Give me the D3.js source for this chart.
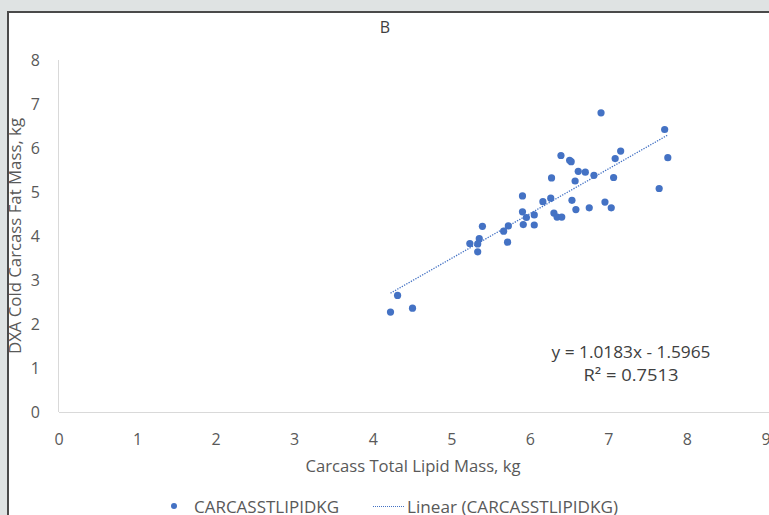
<!DOCTYPE html>
<html>
<head>
<meta charset="utf-8">
<script src="https://cdn.jsdelivr.net/npm/d3@7"></script>
<style>
  html, body { margin: 0; padding: 0; background: #dfe3e3; overflow: hidden; }
  svg { display: block; }
  text { font-family: "Open Sans", sans-serif; fill: #595959; }
</style>
</head>
<body>
<svg id="chart" width="769" height="515"></svg>
<script>
// carcass total lipid mass (kg) vs DXA cold carcass fat mass (kg)
var lipid = [5.90, 5.90, 5.95, 6.05, 5.91, 6.05, 5.39, 5.72, 5.66, 5.35, 5.23, 5.33, 5.71, 5.33,
  4.31, 4.22, 4.50, 6.90, 7.71, 7.75, 7.64, 7.15, 7.08, 7.06, 6.39, 6.50, 6.52, 6.61, 6.70, 6.81,
  6.27, 6.57, 6.16, 6.26, 6.53, 6.95, 7.03, 6.75, 6.58, 6.30, 6.34, 6.40];
var dxaFat = [4.91, 4.55, 4.42, 4.48, 4.26, 4.25, 4.22, 4.23, 4.11, 3.94, 3.83, 3.82, 3.86, 3.64,
  2.65, 2.27, 2.36, 6.80, 6.42, 5.78, 5.08, 5.93, 5.76, 5.33, 5.83, 5.72, 5.69, 5.47, 5.45, 5.38,
  5.32, 5.25, 4.78, 4.86, 4.81, 4.77, 4.64, 4.64, 4.60, 4.52, 4.43, 4.43];
var xTicks = [0, 1, 2, 3, 4, 5, 6, 7, 8, 9];
var yTicks = [0, 1, 2, 3, 4, 5, 6, 7, 8];
var slope = 1.0183, intercept = -1.5965, r2 = "0.7513";
var seriesName = "CARCASSTLIPIDKG";

var points = lipid.map((x, i) => ({ x: x, y: dxaFat[i] }));

var svg = d3.select("#chart");

// white chart panel, dark frame on the left/top
svg.append("rect")
  .attr("x", 8).attr("y", 12).attr("width", 800).attr("height", 560)
  .attr("fill", "#fff").attr("stroke", "#4a4a4a").attr("stroke-width", 2);

var x = d3.scaleLinear().domain([0, 9]).range([59, 766]);
var y = d3.scaleLinear().domain([0, 8]).range([412, 60]);

// axis lines
svg.append("line")
  .attr("x1", x(0)).attr("x2", 769).attr("y1", y(0) + 0.5).attr("y2", y(0) + 0.5)
  .attr("stroke", "#d9d9d9").attr("stroke-width", 1);
svg.append("line")
  .attr("x1", x(0) - 0.5).attr("x2", x(0) - 0.5).attr("y1", y(8)).attr("y2", y(0))
  .attr("stroke", "#d9d9d9").attr("stroke-width", 1);

// tick labels
svg.selectAll("text.xtick")
  .data(xTicks)
  .enter()
  .append("text")
  .attr("class", "xtick")
  .attr("x", d => x(d))
  .attr("y", 445)
  .attr("text-anchor", "middle")
  .style("font-size", "16px")
  .text(d => d);

svg.selectAll("text.ytick")
  .data(yTicks)
  .enter()
  .append("text")
  .attr("class", "ytick")
  .attr("x", 40)
  .attr("y", d => y(d) + 6)
  .attr("text-anchor", "end")
  .style("font-size", "16px")
  .text(d => d);

// narrow text helper (source font is a condensed one)
var label = (sel, txt, len) => sel
  .attr("textLength", len)
  .attr("lengthAdjust", "spacingAndGlyphs")
  .text(txt);

// titles
svg.append("text")
  .attr("x", 385).attr("y", 33)
  .attr("text-anchor", "middle")
  .style("font-size", "16px").style("fill", "#404040")
  .text("B");

svg.append("text")
  .attr("x", 413).attr("y", 472)
  .attr("text-anchor", "middle")
  .style("font-size", "17px")
  .call(label, "Carcass Total Lipid Mass, kg", 215);

svg.append("text")
  .attr("transform", "translate(21,236) rotate(-90)")
  .attr("text-anchor", "middle")
  .style("font-size", "17px")
  .call(label, "DXA Cold Carcass Fat Mass, kg", 236);

// trendline between min and max x
var xMin = d3.min(lipid), xMax = d3.max(lipid);
svg.append("line")
  .attr("x1", x(xMin)).attr("y1", y(slope * xMin + intercept))
  .attr("x2", x(xMax)).attr("y2", y(slope * xMax + intercept))
  .attr("stroke", "#4472c4").attr("stroke-width", 1.3)
  .attr("stroke-dasharray", "1.3 1.3");

// points
svg.selectAll("circle.pt")
  .data(points)
  .enter()
  .append("circle")
  .attr("class", "pt")
  .attr("cx", d => x(d.x))
  .attr("cy", d => y(d.y))
  .attr("r", 3.6)
  .attr("fill", "#4472c4");

// equation label
svg.append("text")
  .attr("x", 631).attr("y", 358)
  .attr("text-anchor", "middle")
  .style("font-size", "17px").style("fill", "#404040")
  .call(label, "y = " + slope + "x - " + Math.abs(intercept), 159);
svg.append("text")
  .attr("x", 631).attr("y", 381)
  .attr("text-anchor", "middle")
  .style("font-size", "17px").style("fill", "#404040")
  .call(label, "R² = " + r2, 95);

// legend
var lg = svg.append("g").attr("transform", "translate(0,506)");
lg.append("circle").attr("cx", 174).attr("cy", 0).attr("r", 3).attr("fill", "#4472c4");
lg.append("text").attr("x", 194).attr("y", 6.5).style("font-size", "17px")
  .call(label, seriesName, 145);
lg.append("line")
  .attr("x1", 373).attr("x2", 404).attr("y1", 0.5).attr("y2", 0.5)
  .attr("stroke", "#4472c4").attr("stroke-width", 1)
  .attr("stroke-dasharray", "1 1");
lg.append("text").attr("x", 407).attr("y", 6.5).style("font-size", "17px")
  .call(label, "Linear (" + seriesName + ")", 211);
</script>
</body>
</html>
